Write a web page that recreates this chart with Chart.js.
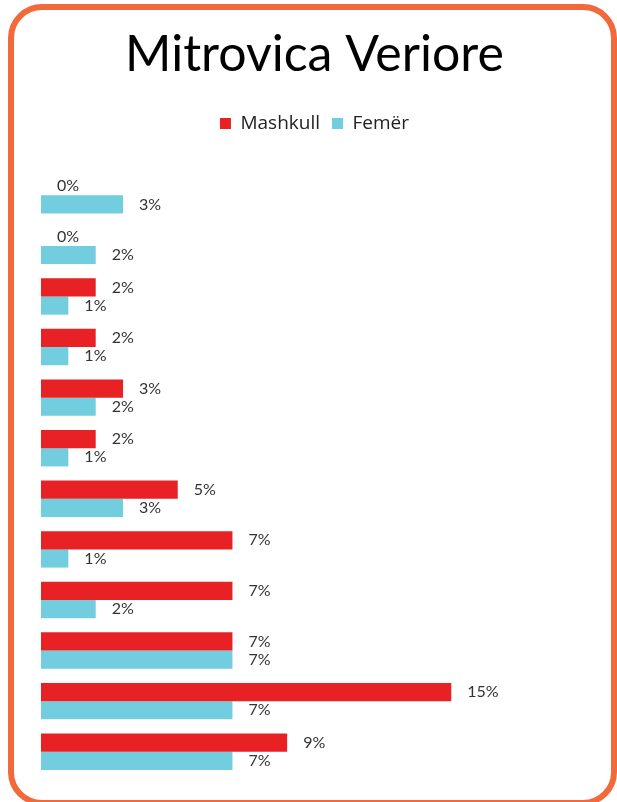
<!DOCTYPE html>
<html>
<head>
<meta charset="utf-8">
<script src="https://cdn.jsdelivr.net/npm/chart.js@4"></script>
<style>
  body { margin: 0; background: #fff; }
  #frame {
    position: absolute; left: 8px; top: 4px;
    width: 597px; height: 790px;
    border: 6px solid #F26A3B; border-radius: 34px;
  }
  #myChart { position: absolute; left: 0; top: 0; }
</style>
</head>
<body>
<div id="frame"></div>
<canvas id="myChart" width="617" height="802"></canvas>
<script>
const categories = ['1', '2', '3', '4', '5', '6', '7', '8', '9', '10', '11', '12'];
const maleData = [0, 0, 2, 2, 3, 2, 5, 7, 7, 7, 15, 9];
const femaleData = [3, 2, 1, 1, 2, 1, 3, 1, 2, 7, 7, 7];

const fontName = 'Lato, "Open Sans", sans-serif';

// push the plot down under the legend
const legendGap = {
    id: 'legendGap',
    beforeInit(chart) {
        const fit = chart.legend.fit;
        chart.legend.fit = function() {
            fit.bind(chart.legend)();
            this.height += 27;
        }
    }
};

const valueLabels = {
    id: 'valueLabels',
    afterDatasetsDraw(chart) {
        const ctx = chart.ctx;
        ctx.save();
        ctx.font = '16px ' + fontName;
        ctx.fillStyle = '#333';
        ctx.textBaseline = 'middle';
        ctx.textAlign = 'left';
        chart.data.datasets.forEach((ds, i) => {
            chart.getDatasetMeta(i).data.forEach((bar, j) => {
                ctx.fillText(ds.data[j] + '%', bar.x + 16, bar.y);
            });
        });
        ctx.restore();
    }
};

var ctx = document.getElementById('myChart').getContext('2d');
var myChart = new Chart(ctx, {
    type: 'bar',
    data: {
        labels: categories,
        datasets: [
            {
                label: 'Mashkull',
                data: maleData,
                backgroundColor: '#E82224',
            },
            {
                label: 'Femër',
                data: femaleData,
                backgroundColor: '#72CDDF',
            },
        ]
    },
    plugins: [legendGap, valueLabels],
    options: {
        indexAxis: 'y',
        responsive: false,
        animation: false,
        barPercentage: 1,
        categoryPercentage: 0.72,
        layout: {
            padding: { left: 41, right: 29, bottom: 25, top: 0 }
        },
        scales: {
            x: { display: false, min: 0, max: 20 },
            y: { display: false }
        },
        plugins: {
            title: {
                display: true,
                text: 'Mitrovica Veriore',
                color: '#000',
                font: { family: fontName, size: 50, weight: 'normal' },
                padding: { top: 25, bottom: 17 }
            },
            legend: {
                labels: {
                    boxWidth: 11,
                    boxHeight: 11,
                    padding: 12,
                    color: '#222',
                    font: { family: '"Open Sans", sans-serif', size: 19 }
                }
            },
            tooltip: { enabled: false }
        }
    }
});
</script>
</body>
</html>
